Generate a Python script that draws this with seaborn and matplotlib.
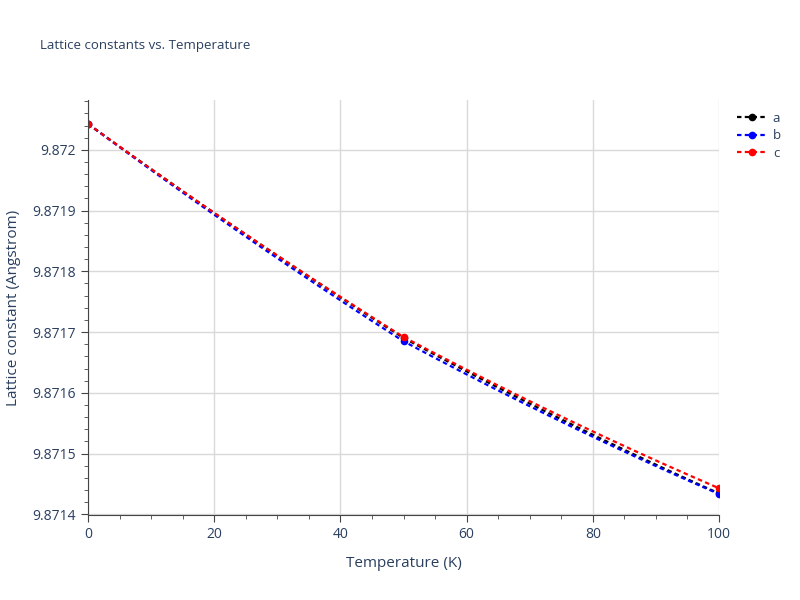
import numpy as np
import matplotlib
matplotlib.use("Agg")
import matplotlib.pyplot as plt
import seaborn as sns
from matplotlib.ticker import MultipleLocator, FormatStrFormatter

temps = [0, 50, 100]
a_vals = [9.8720426, 9.8716905, 9.8714345]
b_vals = [9.8720426, 9.8716850, 9.8714335]
c_vals = [9.8720426, 9.8716920, 9.8714430]
names = ["a", "b", "c"]
colors = ["black", "blue", "red"]

sns.set_style("white")
plt.rcParams['font.family'] = ['Open Sans', 'DejaVu Sans']
fig = plt.figure(figsize=(8, 6), dpi=100)
ax = fig.add_axes([88/800, 1-515/600, (719-88)/800, (515-100)/600])

txt = "#2a3f5f"
xs = np.linspace(0, 100, 200)
for n, v, col in zip(names, [a_vals, b_vals, c_vals], colors):
    lin = np.interp(xs, temps, v)
    quad = np.polyval(np.polyfit(temps, v, 2), xs)
    ax.plot(xs, 0.5 * lin + 0.5 * quad, ls=(0, (2, 1.5)), color=col, lw=1.6)
    ax.plot(temps, v, "o", color=col, ms=4.5)
    ax.plot([], [], ls=(0, (2, 1.5)), marker="o", color=col, ms=4.5, lw=1.6, label=n)

ax.set_xlim(0, 100)
ax.set_ylim(9.871399, 9.872082)
ax.yaxis.set_major_locator(MultipleLocator(0.0001))
ax.yaxis.set_minor_locator(MultipleLocator(0.00002))
ax.yaxis.set_major_formatter(FormatStrFormatter("%.7g"))
ax.xaxis.set_major_locator(MultipleLocator(20))
ax.xaxis.set_minor_locator(MultipleLocator(5))
ax.grid(True, which="major", color="#d9d9d9", lw=1)
for s in ["top", "right"]:
    ax.spines[s].set_visible(False)
ax.spines["left"].set_color("#444")
ax.spines["bottom"].set_color("#444")
ax.tick_params(which="both", bottom=True, left=True, direction="out", color="#444")
ax.tick_params(which="major", length=5, labelcolor=txt, labelsize=10)
ax.tick_params(which="minor", length=3)
ax.set_xlabel("Temperature (K)", color=txt, fontsize=11, labelpad=10)
ax.set_ylabel("Lattice constant (Angstrom)", color=txt, fontsize=11, labelpad=8)
fig.text(40/800, 1-45/600, "Lattice constants vs. Temperature", color=txt, fontsize=9.5, va="center")
ax.legend(loc="upper left", bbox_to_anchor=(1.01, 1.0), frameon=False, fontsize=9.5,
          handlelength=2.2, handletextpad=0.5, labelspacing=0.35, labelcolor=txt)
fig.savefig("out.png", dpi=100)
